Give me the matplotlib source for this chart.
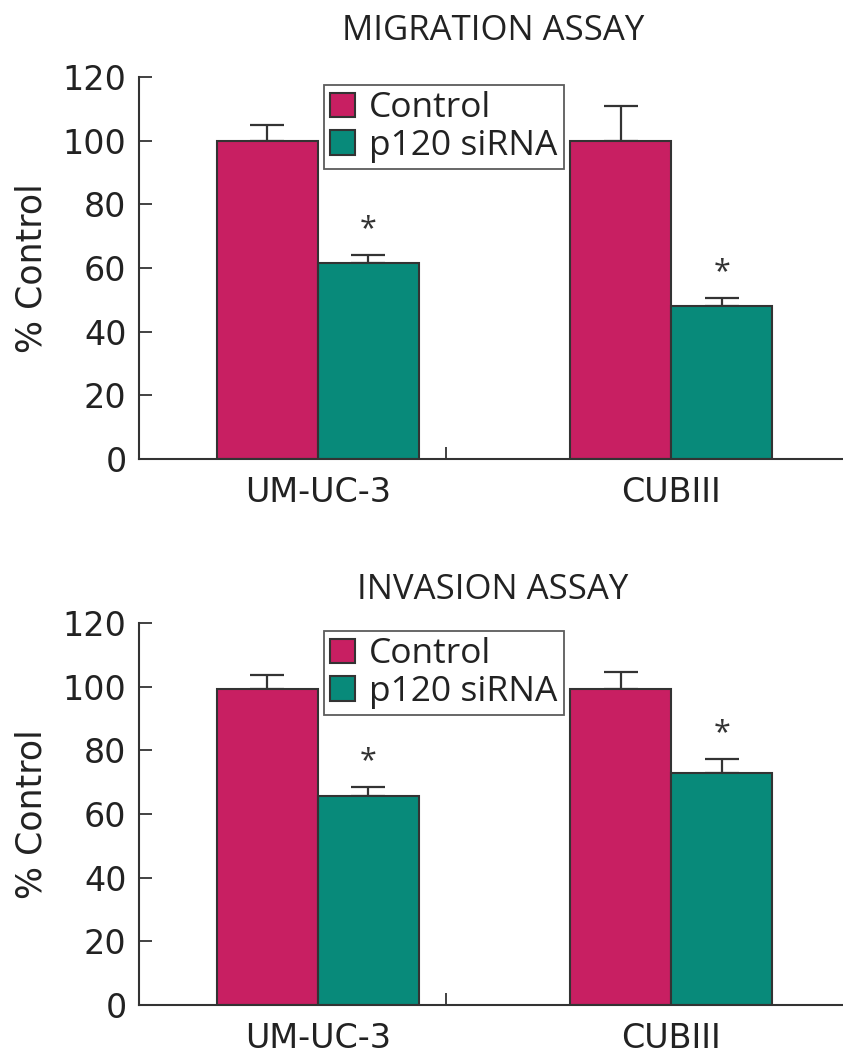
import numpy as np
import matplotlib.pyplot as plt
from matplotlib.patches import Patch

# data
cell_lines = ['UM-UC-3', 'CUBIII']
series = ['Control', 'p120 siRNA']

mig_control = [100, 100]
mig_control_err = [5, 11]
mig_p120 = [61.6, 48.1]
mig_p120_err = [2.5, 2.5]

inv_control = [99.4, 99.4]
inv_control_err = [4.3, 5.2]
inv_p120 = [65.7, 72.9]
inv_p120_err = [2.8, 4.4]

yticks = [0, 20, 40, 60, 80, 100, 120]

c_ctrl = '#C81F62'
c_p120 = '#088A7A'
edge = '#333333'

W, H = 843, 1054
fig = plt.figure(figsize=(W / 100, H / 100), dpi=100)

sans = ['DejaVu Sans']
title_font = ['Open Sans', 'DejaVu Sans']

centers = np.array([0.0, 3.5])  # group centers in bar-width units
bw = 1.0
x_left = -1.77
ax_right_px = 950
span = (ax_right_px - 139) / 101.0


def panel(bottom_px, top_px, ctrl, ctrl_err, p120, p120_err, title, title_y):
    ax = fig.add_axes([139 / W, 1 - bottom_px / H, (ax_right_px - 139) / W, (bottom_px - top_px) / H])
    ax.bar(centers - bw / 2, ctrl, bw, color=c_ctrl, edgecolor=edge, linewidth=1.5, zorder=2)
    ax.bar(centers + bw / 2, p120, bw, color=c_p120, edgecolor=edge, linewidth=1.5, zorder=2)
    ax.errorbar(centers - bw / 2, ctrl, yerr=[np.zeros(2), ctrl_err], fmt='none',
                ecolor=edge, elinewidth=1.6, capsize=12, capthick=1.6, zorder=1)
    ax.errorbar(centers + bw / 2, p120, yerr=[np.zeros(2), p120_err], fmt='none',
                ecolor=edge, elinewidth=1.6, capsize=12, capthick=1.6, zorder=1)
    # significance stars
    for xc, v, e in zip(centers + bw / 2, p120, p120_err):
        ax.text(xc, v + e + 8, '*', ha='center', va='center', fontsize=22, color='#333333',
                family=title_font)
    ax.set_xlim(x_left, x_left + span)
    ax.set_ylim(0, 120)
    ax.set_yticks(yticks)
    ax.set_xticks(centers)
    ax.set_xticklabels(cell_lines, family=sans, fontsize=24)
    ax.set_xticks([(446 - 318) / 101.0], minor=True)
    ax.tick_params(axis='x', which='major', length=0, pad=12, colors='#222222')
    ax.tick_params(axis='x', which='minor', direction='in', length=9, width=1.3, color=edge)
    ax.tick_params(axis='y', which='major', direction='in', length=9, width=1.3, color=edge,
                   pad=9, labelsize=24, labelcolor='#222222')
    ax.set_ylabel('% Control', family=sans, fontsize=25, color='#222222', labelpad=10)
    for s in ['top', 'right']:
        ax.spines[s].set_visible(False)
    for s in ['left', 'bottom']:
        ax.spines[s].set_color(edge)
        ax.spines[s].set_linewidth(1.5)
    handles = [Patch(facecolor=c_ctrl, edgecolor=edge, linewidth=1.5),
               Patch(facecolor=c_p120, edgecolor=edge, linewidth=1.5)]
    leg = ax.legend(handles, series, loc='upper left',
                    bbox_to_anchor=(324 / W, 1 - (top_px + 8) / H), bbox_transform=fig.transFigure,
                    frameon=True, fancybox=False, handlelength=0.7, handleheight=0.7,
                    handletextpad=0.4, borderpad=0.18, labelspacing=0.1, borderaxespad=0,
                    prop={'family': title_font, 'size': 25.5})
    leg.get_frame().set_edgecolor(edge)
    leg.get_frame().set_linewidth(1.3)
    for t in leg.get_texts():
        t.set_color('#222222')
    fig.text(493 / W, 1 - title_y / H, title, ha='center', va='center',
             family=title_font, fontsize=25, color='#222222')
    return ax


panel(459, 77, mig_control, mig_control_err, mig_p120, mig_p120_err, 'MIGRATION ASSAY', 31)
panel(1005, 623, inv_control, inv_control_err, inv_p120, inv_p120_err, 'INVASION ASSAY', 590)

fig.savefig('out.png', dpi=100)
